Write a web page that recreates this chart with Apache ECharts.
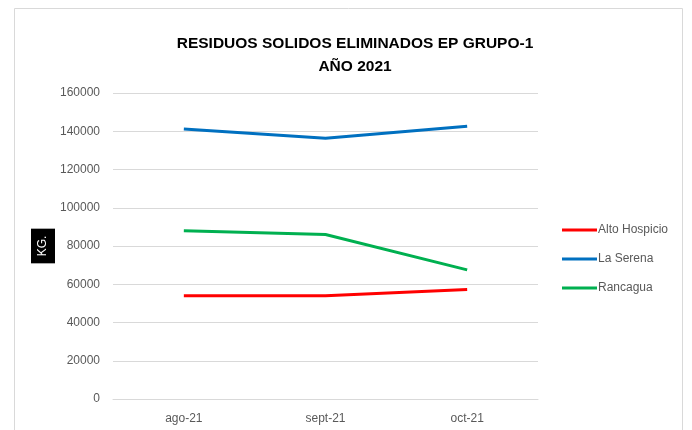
<!DOCTYPE html>
<html><head><meta charset="utf-8">
<script src="https://cdn.jsdelivr.net/npm/echarts@6/dist/echarts.min.js"></script>
<style>html,body{margin:0;padding:0;background:#fff}#c{width:692px;height:430px}</style>
</head><body><div id="c"></div>
<script>
const categories = ['ago-21', 'sept-21', 'oct-21'];
const altoHospicio = [54000, 54000, 57200];
const laSerena = [141200, 136400, 142600];
const rancagua = [88000, 86000, 67500];
const yTicks = [0, 20000, 40000, 60000, 80000, 100000, 120000, 140000, 160000];

const chart = echarts.init(document.getElementById('c'));
const lbl = {color: '#595959', fontFamily: 'Liberation Sans, sans-serif', fontSize: 12};
chart.setOption({
  animation: false,
  graphic: [{type: 'rect', shape: {x: 14.5, y: 8.5, width: 668, height: 440}, style: {fill: 'none', stroke: '#d9d9d9', lineWidth: 1}}],
  title: {
    text: 'RESIDUOS SOLIDOS ELIMINADOS EP GRUPO-1\nAÑO 2021',
    left: 350, top: 27, textAlign: 'center',
    textStyle: {fontFamily: 'Liberation Sans, sans-serif', fontWeight: 'bold', fontSize: 15.5, lineHeight: 23, color: '#000'}
  },
  legend: {
    orient: 'vertical', left: 557, top: 219, itemGap: 17, itemWidth: 35, itemHeight: 3,
    icon: 'rect',
    textStyle: Object.assign({}, lbl, {padding: [0, 0, 0, -4]}),
    data: ['Alto Hospicio', 'La Serena', 'Rancagua']
  },
  grid: {left: 113, right: 154, top: 93, bottom: 31},
  xAxis: {
    type: 'category', data: categories, boundaryGap: true,
    axisLine: {show: true, lineStyle: {color: '#d9d9d9'}}, axisTick: {show: false},
    axisLabel: Object.assign({}, lbl, {margin: 14})
  },
  yAxis: {
    type: 'value', min: yTicks[0], max: yTicks[yTicks.length - 1], interval: 20000,
    name: 'KG.', nameLocation: 'middle', nameRotate: 90, nameGap: 58, nameMoveOverlap: false,
    nameTextStyle: {color: '#fff', backgroundColor: '#000', padding: [6, 7, 6, 7], fontFamily: 'Liberation Sans, sans-serif', fontSize: 12},
    axisLine: {show: false}, axisTick: {show: false},
    axisLabel: Object.assign({}, lbl, {margin: 13, formatter: v => String(v)}),
    splitLine: {lineStyle: {color: '#d9d9d9', width: 1}}
  },
  series: [
    {name: 'Alto Hospicio', type: 'line', data: altoHospicio, symbol: 'none', lineStyle: {width: 3, color: '#ff0000'}, itemStyle: {color: '#ff0000'}},
    {name: 'La Serena', type: 'line', data: laSerena, symbol: 'none', lineStyle: {width: 3, color: '#0070c0'}, itemStyle: {color: '#0070c0'}},
    {name: 'Rancagua', type: 'line', data: rancagua, symbol: 'none', lineStyle: {width: 3, color: '#00b050'}, itemStyle: {color: '#00b050'}}
  ]
});
</script></body></html>
